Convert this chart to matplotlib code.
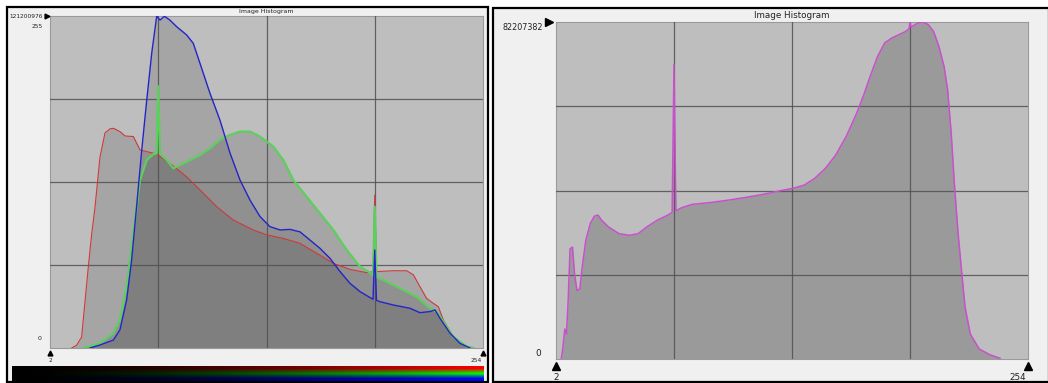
import numpy as np
import matplotlib
matplotlib.use("Agg")
import matplotlib.pyplot as plt
from matplotlib.patches import Rectangle

# ---------------- data (bin value, count in millions) ----------------
red_bin = [14.6, 17.5, 20.4, 24.3, 26.3, 28.2, 31.1, 34.0, 36.9, 39.0, 42.7, 45.7, 50.5,
           54.4, 64.1, 71.8, 81.5, 89.3, 99.0, 108.7, 120.3, 128.1, 137.8, 147.5,
           157.2, 166.9, 176.6, 186.3, 190.0, 191.0, 192.0, 201.8, 209.6, 213.5,
           217.3, 221.2, 225.1, 228.0, 230.9, 236.7, 244.5, 248.4]
red_cnt = [0.0, 1.0, 4.0, 29.6, 41.9, 51.5, 69.7, 78.5, 80.0, 80.2, 79.0, 77.4, 77.2,
           72.3, 70.8, 67.4, 62.5, 57.7, 51.6, 46.7, 43.1, 41.3, 40.0, 38.2,
           34.6, 30.9, 28.7, 27.5, 27.8, 55.8, 27.9, 28.2, 28.2, 26.7,
           22.4, 18.1, 16.3, 15.1, 10.2, 4.1, 0.5, 0.0]

green_bin = [21.4, 31.1, 38.9, 42.7, 46.6, 50.5, 54.4, 58.3, 62.2, 64.0, 65.0, 66.0,
             69.9, 73.8, 77.7, 83.5, 89.3, 95.1, 100.9, 106.8, 112.6, 118.4, 124.2,
             132.0, 137.8, 143.6, 151.4, 159.1, 166.9, 174.7, 182.4, 188.3, 190.0,
             191.0, 192.0, 196.0, 205.7, 215.4, 223.2, 227.0, 230.9, 236.7, 244.5, 248.4]
green_cnt = [0.0, 1.7, 5.4, 10.2, 22.4, 41.9, 61.3, 68.6, 70.8, 71.0, 95.6, 70.9,
             68.6, 65.6, 66.8, 68.6, 70.4, 72.9, 76.0, 77.8, 79.0, 79.0, 77.2,
             73.5, 68.6, 61.3, 55.2, 49.2, 43.1, 35.8, 29.7, 27.5, 26.5,
             51.6, 25.8, 24.8, 21.8, 18.7, 14.5, 13.3, 9.6, 4.1, 0.5, 0.0]

blue_bin = [25.3, 31.1, 38.9, 42.7, 46.6, 49.5, 52.4, 55.4, 58.3, 61.2, 64.1, 66.0,
            68.6, 71.8, 75.7, 81.5, 85.4, 89.3, 95.1, 100.9, 106.8, 112.6, 118.4,
            124.2, 130.0, 135.9, 141.7, 147.5, 153.3, 159.1, 165.0, 170.8, 176.6,
            182.4, 188.3, 190.0, 191.0, 192.0, 194.1, 201.8, 211.5, 217.3, 223.2,
            226.1, 229.0, 234.8, 240.6, 246.4]
blue_cnt = [0.0, 1.1, 2.9, 6.6, 17.5, 32.1, 51.6, 72.3, 90.5, 107.6, 121.2, 119.7,
            121.1, 119.7, 117.3, 114.3, 111.2, 103.9, 93.0, 83.2, 71.1, 61.3, 54.0,
            48.0, 44.3, 43.1, 43.3, 42.4, 39.4, 36.4, 32.7, 27.9, 23.6,
            20.6, 18.4, 17.8, 35.8, 17.4, 16.9, 15.7, 14.5, 12.9, 13.3,
            13.9, 10.8, 5.4, 1.7, 0.0]

lum_bin = [4.8, 5.7, 6.7, 7.6, 8.5, 9.5, 10.8, 11.9, 13.2, 14.7, 16.0, 17.9, 20.3,
           22.5, 24.4, 26.3, 30.0, 35.6, 41.2, 45.9, 50.5, 56.1, 61.7, 64.0, 65.0,
           66.0, 69.2, 74.8, 84.1, 93.5, 102.8, 112.1, 121.5, 128.2, 134.5, 140.1,
           145.7, 151.3, 156.9, 162.5, 166.3, 170.0, 173.7, 177.5, 181.2, 184.9,
           188.7, 190.5, 191.0, 191.5, 195.2, 198.0, 200.8, 203.6, 206.4, 209.2,
           211.1, 213.0, 214.8, 216.7, 218.5, 220.4, 223.2, 227.9, 233.5, 239.1]
lum_frac = [0.0, 0.035, 0.089, 0.074, 0.174, 0.327, 0.332, 0.253, 0.203, 0.208,
            0.273, 0.352, 0.402, 0.424, 0.427, 0.412, 0.392, 0.372, 0.367, 0.372,
            0.392, 0.412, 0.427, 0.435, 0.873, 0.440, 0.449, 0.459, 0.464, 0.471,
            0.479, 0.488, 0.499, 0.506, 0.516, 0.536, 0.565, 0.605, 0.660, 0.729,
            0.784, 0.843, 0.898, 0.938, 0.952, 0.962, 0.972, 0.980, 1.0, 0.985,
            0.997, 1.0, 0.992, 0.972, 0.928, 0.868, 0.799, 0.670, 0.511, 0.372,
            0.263, 0.154, 0.074, 0.030, 0.013, 0.002]

rgb_max = 121200976
lum_max = 82207382
lum_cnt = [f * lum_max / 1e6 for f in lum_frac]

# ---------------- layout helpers ----------------
W, H = 1048, 383
fig = plt.figure(figsize=(W / 100, H / 100), dpi=100)
fig.patch.set_facecolor("white")


def rect(x0, y0, x1, y1):
    return [x0 / W, 1 - y1 / H, (x1 - x0) / W, (y1 - y0) / H]


def ftxt(x, y, s, **kw):
    fig.text(x / W, 1 - y / H, s, **kw)


def tri(x, y, m, ms):
    fig.add_artist(plt.Line2D([x / W], [1 - y / H], marker=m, color="black",
                              markersize=ms, transform=fig.transFigure, zorder=5))


# panel frames (behind the axes)
fig.add_artist(Rectangle((7 / W, 1 - 382 / H), 481 / W, 375 / H, transform=fig.transFigure,
                         facecolor="#f0f0f0", edgecolor="black", lw=1.6, zorder=-10))
fig.add_artist(Rectangle((493 / W, 1 - 382 / H), 556 / W, 374 / H, transform=fig.transFigure,
                         facecolor="#f0f0f0", edgecolor="black", lw=1.6, zorder=-10))


def style(ax, ymax):
    ax.set_facecolor("#bebebe")
    ax.set_xlim(2, 254)
    ax.set_ylim(0, ymax)
    ax.set_xticks([65, 128, 191])
    ax.set_yticks([ymax * 0.25, ymax * 0.5, ymax * 0.75])
    ax.tick_params(length=0, labelbottom=False, labelleft=False)
    ax.grid(True, color="#505050", lw=0.9, alpha=0.85)
    ax.set_axisbelow(False)
    for s in ax.spines.values():
        s.set_color("#9a9a9a")
        s.set_linewidth(0.8)


# ---------------- left: RGB histogram ----------------
ymax_l = rgb_max / 1e6
ax1 = fig.add_axes(rect(50, 16, 483, 348))
style(ax1, ymax_l)
for xs, ys in [(red_bin, red_cnt), (green_bin, green_cnt), (blue_bin, blue_cnt)]:
    ax1.fill_between(xs, ys, color="#282828", alpha=0.16, lw=0, zorder=1)
ax1.plot(red_bin, red_cnt, color="#cc3a3a", lw=0.8, zorder=3)
ax1.plot(green_bin, green_cnt, color="#5ccf5c", lw=1.6, zorder=3)
ax1.plot(blue_bin, blue_cnt, color="#2424c8", lw=1.0, zorder=3)

ftxt(266, 11, "Image Histogram", fontsize=4.5, ha="center", va="center", color="#222222")
ftxt(43, 16, "121200976", fontsize=4.2, ha="right", va="center", color="#222222")
ftxt(43, 27, "255", fontsize=4.2, ha="right", va="center", color="#222222")
ftxt(42, 338, "0", fontsize=4.5, ha="right", va="center", color="#222222")
ftxt(50, 361, "2", fontsize=4.2, ha="center", va="center", color="#222222")
ftxt(476, 361, "254", fontsize=4.2, ha="center", va="center", color="#222222")
tri(47, 16, ">", 3.5)
tri(50, 353, "^", 3.5)
tri(483, 353, "^", 3.5)

# colour ramp under the left chart
axc = fig.add_axes(rect(12, 366, 484, 381))
ramp = np.linspace(0, 1, 256) ** 1.6
bar = np.zeros((3, 256, 3))
bar[0, :, 0] = ramp
bar[1, :, 1] = ramp
bar[2, :, 2] = ramp
axc.imshow(bar, aspect="auto", interpolation="bilinear")
axc.set_axis_off()

# ---------------- right: luminance histogram ----------------
ymax_r = lum_max / 1e6
ax2 = fig.add_axes(rect(556, 22, 1028, 359))
style(ax2, ymax_r)
ax2.fill_between(lum_bin, lum_cnt, color="#9a9a9a", lw=0, zorder=1)
ax2.plot(lum_bin, lum_cnt, color="#c850cc", lw=1.1, zorder=3)

ftxt(792, 15, "Image Histogram", fontsize=6.3, ha="center", va="center", color="#222222")
ftxt(543, 28, "82207382", fontsize=5.8, ha="right", va="center", color="#222222")
ftxt(541, 353, "0", fontsize=6.5, ha="right", va="center", color="#222222")
ftxt(556, 377, "2", fontsize=6.3, ha="center", va="center", color="#222222")
ftxt(1018, 377, "254", fontsize=6.3, ha="center", va="center", color="#222222")
tri(549, 22, ">", 6)
tri(556, 366, "^", 6)
tri(1028, 366, "^", 6)

fig.savefig("out.png", dpi=100)
